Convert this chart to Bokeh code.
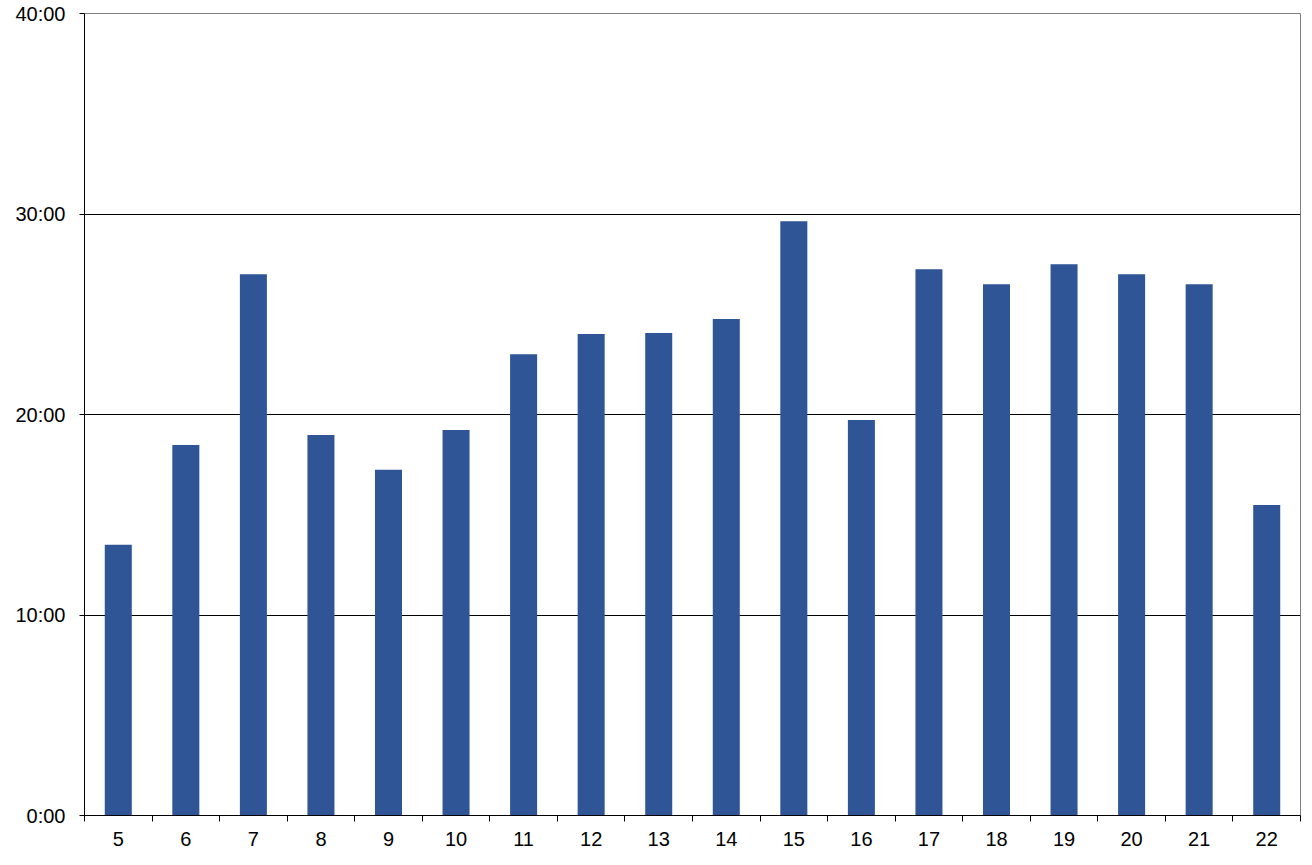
from bokeh.plotting import figure
from bokeh.models import FixedTicker, Range1d
from bokeh.embed import file_html
from bokeh.resources import INLINE

categories = [5, 6, 7, 8, 9, 10, 11, 12, 13, 14, 15, 16, 17, 18, 19, 20, 21, 22]
# durations in minutes
durations = [13.5, 18.48, 27.0, 18.98, 17.24, 19.23, 23.01, 24.01, 24.06, 24.76,
             29.64, 19.73, 27.25, 26.5, 27.5, 27.0, 26.5, 15.49]
y_ticks = [0, 10, 20, 30, 40]
y_tick_labels = ["0:00", "10:00", "20:00", "30:00", "40:00"]

FONT = "Liberation Sans"

p = figure(width=1310, height=860, output_backend="svg", toolbar_location=None,
           x_range=Range1d(categories[0] - 0.5, categories[-1] + 0.5),
           y_range=Range1d(0, 40),
           min_border_left=84, min_border_right=10, min_border_top=13, min_border_bottom=45)

p.vbar(x=categories, top=durations, width=0.4, bottom=0,
       fill_color="#2F5597", line_color=None)

p.outline_line_color = "#808080"
p.outline_line_width = 1
p.background_fill_color = "white"
p.border_fill_color = "white"

# y axis
p.yaxis.ticker = FixedTicker(ticks=y_ticks)
p.yaxis.major_label_overrides = {t: l for t, l in zip(y_ticks, y_tick_labels)}
p.yaxis.axis_line_color = "black"
p.yaxis.major_tick_line_color = "black"
p.yaxis.major_tick_out = 5
p.yaxis.major_tick_in = 0
p.yaxis.minor_tick_line_color = None
p.yaxis.major_label_text_font = FONT
p.yaxis.major_label_text_font_size = "20px"
p.yaxis.major_label_text_color = "black"
p.yaxis.major_label_standoff = 14

# x axis: labels at centres, ticks between categories
p.xaxis.ticker = FixedTicker(ticks=categories,
                             minor_ticks=[c - 0.5 for c in categories] + [categories[-1] + 0.5])
p.xaxis.axis_line_color = "black"
p.xaxis.major_tick_line_color = None
p.xaxis.major_tick_out = 6
p.xaxis.major_tick_in = 0
p.xaxis.minor_tick_line_color = "black"
p.xaxis.minor_tick_out = 6
p.xaxis.minor_tick_in = 0
p.xaxis.major_label_text_font = FONT
p.xaxis.major_label_text_font_size = "20px"
p.xaxis.major_label_text_color = "black"
p.xaxis.major_label_standoff = 10

p.xgrid.visible = False
p.ygrid.ticker = FixedTicker(ticks=[10, 20, 30])
p.ygrid.grid_line_color = "black"
p.ygrid.grid_line_width = 1

open("out.html", "w").write(file_html(p, INLINE))
